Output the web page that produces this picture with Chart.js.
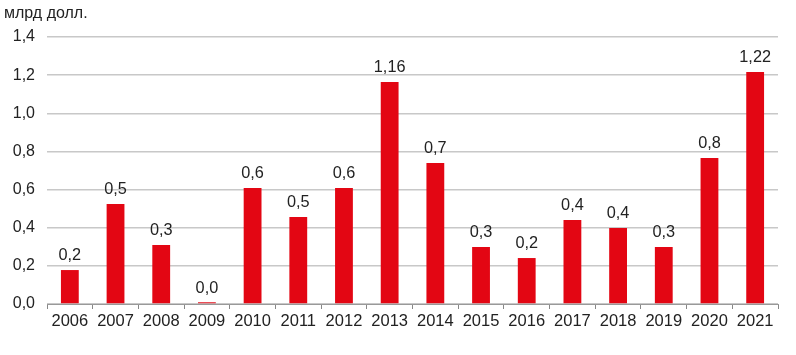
<!DOCTYPE html>
<html><head><meta charset="utf-8">
<script src="https://cdn.jsdelivr.net/npm/chart.js@4/dist/chart.umd.min.js"></script>
<style>html,body{margin:0;padding:0;background:#fff}#wrap{width:796px;height:355px;position:relative}</style>
</head><body><div id="wrap"><canvas id="c" width="796" height="355"></canvas></div>
<script>
const years = ["2006","2007","2008","2009","2010","2011","2012","2013","2014","2015","2016","2017","2018","2019","2020","2021"];
const values = [0.178,0.524,0.309,0.009,0.608,0.456,0.608,1.164,0.739,0.299,0.241,0.44,0.399,0.299,0.766,1.217];
const valueLabels = ["0,2","0,5","0,3","0,0","0,6","0,5","0,6","1,16","0,7","0,3","0,2","0,4","0,4","0,3","0,8","1,22"];
const unitLabel = "млрд долл.";
const FONT = "'Liberation Sans', Arial, sans-serif";

const labelPlugin = {
  id: 'labels',
  afterDatasetsDraw(chart) {
    const ctx = chart.ctx;
    const meta = chart.getDatasetMeta(0);
    ctx.save();
    ctx.fillStyle = '#222';
    ctx.font = '16.3px ' + FONT;
    ctx.textAlign = 'center';
    ctx.textBaseline = 'bottom';
    meta.data.forEach((bar, i) => {
      ctx.fillText(valueLabels[i], bar.x, bar.y - 6);
    });
    ctx.font = '16px ' + FONT;
    ctx.textAlign = 'left';
    ctx.textBaseline = 'middle';
    ctx.fillText(unitLabel, 4, 14);
    ctx.restore();
  }
};

new Chart(document.getElementById('c'), {
  type: 'bar',
  data: { labels: years, datasets: [{ data: values, backgroundColor: '#e30613', borderWidth: 0, categoryPercentage: 1, barPercentage: 0.39 }] },
  options: {
    responsive: false, animation: false,
    layout: { padding: { top: 37, right: 18, left: 0, bottom: 0 } },
    plugins: { legend: { display: false }, tooltip: { enabled: false } },
    scales: {
      x: {
        offset: true,
        grid: { display: true, drawOnChartArea: false, drawTicks: true, tickLength: 5, color: '#888', offset: true },
        border: { display: true, color: '#999', width: 1 },
        ticks: { color: '#222', font: { size: 16.5, family: FONT }, padding: 3, maxRotation: 0, autoSkip: false },
        afterFit(s) { s.height = 51; }
      },
      y: {
        min: 0, max: 1.4,
        grid: { color: '#c8c8c8', drawTicks: false, lineWidth: 1.5 },
        border: { display: false },
        ticks: { stepSize: 0.2, color: '#222', font: { size: 16, family: FONT }, padding: 12,
          callback: v => v.toFixed(1).replace('.', ',') },
        afterFit(s) { s.width = 47; }
      }
    }
  },
  plugins: [labelPlugin]
});
</script></body></html>
